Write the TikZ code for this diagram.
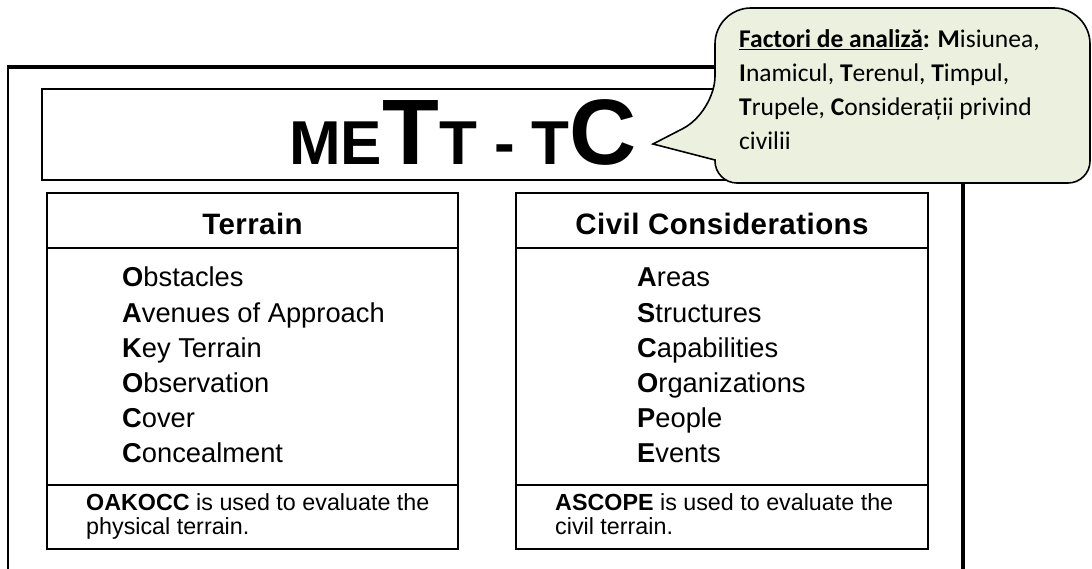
\documentclass[tikz,border=0pt]{standalone}
\usepackage{fontspec}
\setmainfont{Liberation Sans}
\newfontfamily\headfam[LetterSpace=1.5]{Liberation Sans}
\newfontfamily\notefam{Carlito}
\definecolor{notegreen}{HTML}{EBF1DE}
\tikzset{
	framebox/.style={draw, line width=2pt},
	headtext/.style={font=\headfam\bfseries\fontsize{29.5}{31}\selectfont, anchor=base, inner sep=0pt},
	listitem/.style={font=\fontsize{27.3}{29}\selectfont, anchor=base west, inner sep=0pt},
	foottext/.style={font=\fontsize{23.3}{25}\selectfont, anchor=base west, inner sep=0pt},
	callout/.style={draw, line width=1.6pt, fill=notegreen},
	notetext/.style={font=\notefam\fontsize{25.5}{27}\selectfont, anchor=base west, inner sep=0pt}
}

\begin{document}
\begin{tikzpicture}[x=1pt, y=-1pt]
	\useasboundingbox (0,0) rectangle (1092,569);
	\draw[line width=2.5pt] (8,575) -- (8,67);
	\draw[line width=3.5pt] (6.75,67) -- (965,67);
	\draw[line width=4pt] (963,67) -- (963,575);
	\draw[framebox] (42,89) rectangle (928,180);
	\node[font=\bfseries, anchor=base west, inner sep=0pt] (mett) at (289,165)
	{\fontsize{62}{64}\selectfont ME\fontsize{93}{95}\selectfont T\fontsize{62}{64}\selectfont T - T\fontsize{93}{95}\selectfont C};
	\draw[framebox] (47,193) rectangle (458,549) (47,248) -- (458,248) (47,485) -- (458,485);
	\draw[framebox] (516,193) rectangle (928,549) (516,248) -- (928,248) (516,485) -- (928,485);
	\node[headtext] (terrain) at (252.5,235) {Terrain};
	\node[headtext] (civil) at (722,235) {Civil Considerations};
	\foreach \w [count=\i] in {{\textbf{O}bstacles}, {\textbf{A}venues of Approach}, {\textbf{K}ey Terrain},
		{\textbf{O}bservation}, {\textbf{C}over}, {\textbf{C}oncealment}}
		\node[listitem] (ter-\i) at (122,252+35*\i) {\w};
	\foreach \w [count=\i] in {{\textbf{A}reas}, {\textbf{S}tructures}, {\textbf{C}apabilities},
		{\textbf{O}rganizations}, {\textbf{P}eople}, {\textbf{E}vents}}
		\node[listitem] (civ-\i) at (637,252+35*\i) {\w};
	\node[foottext] (oakocc) at (86,510) {\textbf{OAKOCC} is used to evaluate the};
	\node[foottext] (oakocc-2) at (86,534) {physical terrain.};
	\node[foottext] (ascope) at (555,510) {\textbf{ASCOPE} is used to evaluate the};
	\node[foottext] (ascope-2) at (555,534) {civil terrain.};
	\draw[callout] (715,160) [rounded corners=22pt] -- (715,183) -- (1090,183) [rounded corners=36pt] -- (1090,8) -- (715,8) -- (715,112) [sharp corners] -- (653,144) -- cycle;
	\node[notetext] (note-1) at (739,48) {\textbf{\underline{Factori de analiză}:} \textbf{M}isiunea,};
	\node[notetext] (note-2) at (739,82) {\textbf{I}namicul, \textbf{T}erenul, \textbf{T}impul,};
	\node[notetext] (note-3) at (739,116) {\textbf{T}rupele, \textbf{C}onsiderații privind};
	\node[notetext] (note-4) at (739,150) {civilii};
\end{tikzpicture}
\end{document}
